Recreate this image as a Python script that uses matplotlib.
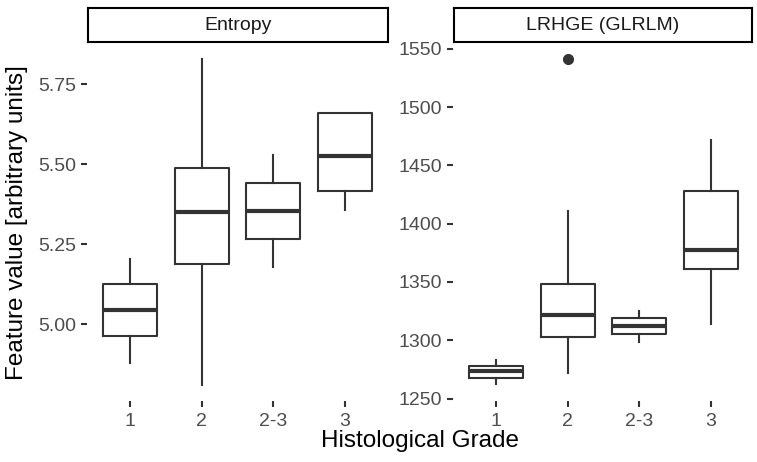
import matplotlib
matplotlib.use('Agg')
import matplotlib.pyplot as plt

plt.rcParams['font.family'] = ['Liberation Sans', 'DejaVu Sans']

grades = ['1', '2', '2-3', '3']

# Entropy box stats
ent_lo = [4.88, 4.81, 5.18, 5.356]
ent_q1 = [4.963, 5.1875, 5.266, 5.416]
ent_med = [5.044, 5.35, 5.353, 5.525]
ent_q3 = [5.125, 5.4875, 5.44, 5.66]
ent_hi = [5.203, 5.828, 5.528, 5.66]
ent_out = [[], [], [], []]

# LRHGE (GLRLM) box stats
lr_lo = [1262.9, 1272.0, 1298.6, 1314.3]
lr_q1 = [1267.7, 1302.9, 1305.5, 1361.5]
lr_med = [1273.4, 1322.0, 1312.0, 1377.2]
lr_q3 = [1278.3, 1348.6, 1319.2, 1427.8]
lr_hi = [1282.8, 1410.6, 1325.5, 1471.5]
lr_out = [[], [1541.3], [], []]

W, H = 757, 462
fig = plt.figure(figsize=(W / 100, H / 100), dpi=100)

dark = '#333333'
txt = '#4D4D4D'


def px(x0, y0, x1, y1):
    return [x0 / W, 1 - y1 / H, (x1 - x0) / W, (y1 - y0) / H]


def panel(rect, strip_rect, title, lo, q1, med, q3, hi, out, yticks, ylim, fmt):
    ax = fig.add_axes(px(*rect))
    stats = []
    for i in range(len(grades)):
        stats.append(dict(whislo=lo[i], q1=q1[i], med=med[i], q3=q3[i],
                          whishi=hi[i], fliers=out[i]))
    ax.bxp(stats, positions=range(1, len(grades) + 1), widths=0.75,
           showcaps=False,
           boxprops=dict(color=dark, linewidth=1.5),
           whiskerprops=dict(color=dark, linewidth=1.5),
           medianprops=dict(color=dark, linewidth=3.0, solid_capstyle='butt'),
           flierprops=dict(marker='o', markerfacecolor=dark,
                           markeredgecolor=dark, markersize=7))
    ax.set_xlim(0.4, 4.6)
    ax.set_ylim(*ylim)
    ax.set_xticks(range(1, len(grades) + 1))
    ax.set_xticklabels(grades)
    ax.set_yticks(yticks)
    ax.set_yticklabels([fmt.format(v) for v in yticks])
    for s in ax.spines.values():
        s.set_visible(False)
    ax.tick_params(length=4, width=1.5, color=dark, labelcolor=txt,
                   labelsize=14)
    ax.tick_params(axis='x', pad=5)
    ax.tick_params(axis='y', pad=4)
    ax.patch.set_alpha(0)

    sax = fig.add_axes(px(*strip_rect))
    sax.set_xticks([])
    sax.set_yticks([])
    for s in sax.spines.values():
        s.set_color('black')
        s.set_linewidth(1.5)
    sax.text(0.5, 0.5, title, ha='center', va='center', fontsize=14,
             color='#1A1A1A', transform=sax.transAxes)
    return ax


ax1 = panel((87, 44, 388, 401), (88, 8, 388, 42), 'Entropy',
            ent_lo, ent_q1, ent_med, ent_q3, ent_hi, ent_out,
            [5.00, 5.25, 5.50, 5.75], (4.76, 5.875), '{:.2f}')
ax2 = panel((453, 44, 754, 401), (454, 8, 752, 42), 'LRHGE (GLRLM)',
            lr_lo, lr_q1, lr_med, lr_q3, lr_hi, lr_out,
            [1250, 1300, 1350, 1400, 1450, 1500, 1550], (1248, 1554), '{:.0f}')

ax1.set_ylabel('Feature value [arbitrary units]', fontsize=17.5, color='black',
               labelpad=7)
fig.text(420 / W, 1 - 441 / H, 'Histological Grade', ha='center', va='center',
         fontsize=17.5, color='black')

fig.savefig('out.png', dpi=100)
